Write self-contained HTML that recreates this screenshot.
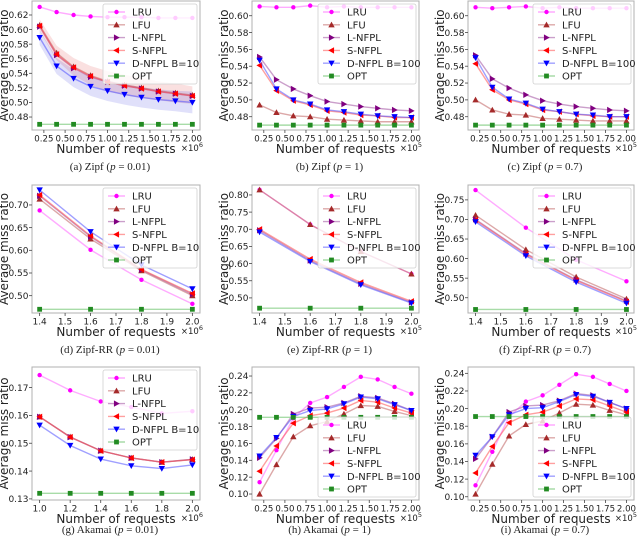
<!DOCTYPE html>
<html><head><meta charset="utf-8"><style>
body{margin:0;background:#fff;width:640px;height:541px;overflow:hidden}
svg{display:block}
text{font-family:"DejaVu Sans","Liberation Sans",sans-serif;fill:#222}
.cap{font-family:"Liberation Serif",serif;font-size:11px}
</style></head><body>
<svg id="fig" width="640" height="541"></svg>
<script>
// shared x categories
const xZipf=[0.2,0.4,0.6,0.8,1.0,1.2,1.4,1.6,1.8,2.0];
const xRR=[1.4,1.6,1.8,2.0];
const xAk=[1.0,1.2,1.4,1.6,1.8,2.0];
const xTicks025=[0.25,0.5,0.75,1.0,1.25,1.5,1.75,2.0];
const xTicksRR=[1.4,1.5,1.6,1.7,1.8,1.9,2.0];
const xTicksAk=[1.0,1.2,1.4,1.6,1.8,2.0];
// panel a
const aLRU=[0.631,0.624,0.620,0.618,0.617,0.617,0.617,0.616,0.616,0.616];
const aLFU=[0.606,0.568,0.549,0.537,0.529,0.524,0.520,0.516,0.513,0.510];
const aL=[0.604,0.565,0.547,0.535,0.528,0.523,0.519,0.515,0.512,0.509];
const aS=[0.605,0.566,0.548,0.536,0.528,0.523,0.519,0.515,0.512,0.509];
const aD=[0.589,0.550,0.533,0.522,0.516,0.511,0.507,0.504,0.502,0.500];
const aOPT=[0.47,0.47,0.47,0.47,0.47,0.47,0.47,0.47,0.47,0.47];
const aRedBand=[0.008,0.010,0.012,0.013,0.014,0.014,0.014,0.013,0.013,0.012];
const aBlueBand=[0.010,0.011,0.012,0.013,0.014,0.014,0.014,0.014,0.014,0.015];
// panel b
const bLRU=[0.611,0.610,0.610,0.612,0.610,0.611,0.610,0.610,0.610,0.610];
const bLFU=[0.494,0.485,0.481,0.480,0.477,0.476,0.475,0.474,0.474,0.474];
const bL=[0.551,0.524,0.513,0.505,0.498,0.495,0.492,0.490,0.488,0.487];
const bS=[0.541,0.511,0.499,0.494,0.487,0.485,0.482,0.481,0.479,0.479];
const bD=[0.547,0.513,0.500,0.495,0.488,0.486,0.483,0.481,0.480,0.479];
const bOPT=[0.47,0.47,0.47,0.47,0.47,0.47,0.47,0.47,0.47,0.47];
// panel c
const cLRU=[0.610,0.609,0.610,0.611,0.609,0.610,0.609,0.609,0.609,0.609];
const cLFU=[0.500,0.488,0.483,0.482,0.478,0.477,0.476,0.475,0.475,0.475];
const cL=[0.553,0.525,0.514,0.506,0.499,0.495,0.492,0.490,0.488,0.487];
const cS=[0.543,0.512,0.500,0.495,0.488,0.486,0.483,0.481,0.480,0.480];
const cD=[0.550,0.515,0.501,0.496,0.489,0.486,0.483,0.482,0.480,0.480];
const cOPT=[0.47,0.47,0.47,0.47,0.47,0.47,0.47,0.47,0.47,0.47];
// panel d
const dLRU=[0.688,0.601,0.535,0.482];
const dLFU=[0.713,0.625,0.555,0.500];
const dL=[0.720,0.630,0.557,0.503];
const dS=[0.722,0.632,0.558,0.505];
const dD=[0.733,0.641,0.568,0.515];
const dOPT=[0.47,0.47,0.47,0.47];
// panel e
const eLRU=[0.815,0.714,0.635,0.570];
const eLFU=[0.815,0.714,0.635,0.570];
const eL=[0.697,0.609,0.541,0.487];
const eS=[0.700,0.613,0.545,0.490];
const eD=[0.692,0.606,0.538,0.485];
const eOPT=[0.47,0.47,0.47,0.47];
// panel f
const fLRU=[0.775,0.679,0.597,0.542];
const fLFU=[0.711,0.623,0.553,0.497];
const fL=[0.700,0.613,0.546,0.492];
const fS=[0.698,0.611,0.544,0.490];
const fD=[0.694,0.607,0.540,0.486];
const fOPT=[0.47,0.47,0.47,0.47];
// panel g
const gLRU=[0.1745,0.169,0.165,0.163,0.1607,0.1615];
const gLFU=[0.1595,0.1523,0.1473,0.1447,0.1432,0.1442];
const gL=[0.1595,0.1522,0.1473,0.1447,0.1432,0.1442];
const gS=[0.1595,0.1522,0.1473,0.1447,0.1432,0.1441];
const gD=[0.1565,0.1492,0.1443,0.1419,0.1409,0.1422];
const gOPT=[0.132,0.132,0.132,0.132,0.132,0.132];
// panel h
const hLRU=[0.114,0.152,0.190,0.208,0.215,0.227,0.239,0.236,0.227,0.219];
const hLFU=[0.100,0.135,0.168,0.181,0.186,0.195,0.205,0.204,0.198,0.193];
const hL=[0.143,0.166,0.195,0.202,0.203,0.208,0.216,0.214,0.207,0.199];
const hS=[0.127,0.157,0.184,0.193,0.196,0.202,0.211,0.209,0.202,0.196];
const hD=[0.145,0.167,0.192,0.199,0.201,0.207,0.215,0.213,0.206,0.199];
const hOPT=[0.191,0.191,0.191,0.191,0.191,0.191,0.191,0.191,0.191,0.191];
// panel i
const iLRU=[0.113,0.151,0.191,0.208,0.215,0.227,0.239,0.236,0.228,0.220];
const iLFU=[0.103,0.137,0.169,0.182,0.186,0.195,0.205,0.204,0.198,0.193];
const iL=[0.143,0.168,0.196,0.203,0.204,0.209,0.217,0.215,0.207,0.200];
const iS=[0.127,0.157,0.184,0.193,0.196,0.203,0.211,0.210,0.203,0.196];
const iD=[0.147,0.168,0.193,0.200,0.201,0.208,0.216,0.214,0.207,0.200];
const iOPT=[0.191,0.191,0.191,0.191,0.191,0.191,0.191,0.191,0.191,0.191];

const NS='http://www.w3.org/2000/svg';
const fig=document.getElementById('fig');
function mk(tag,attrs,parent){const e=document.createElementNS(NS,tag);for(const k in attrs)e.setAttribute(k,attrs[k]);(parent||fig).appendChild(e);return e;}
const SER=[
 {name:'LRU',line:'#ff66ff',mk:'#ff00ff',shape:'circle'},
 {name:'LFU',line:'#c06060',mk:'#a52a2a',shape:'up'},
 {name:'L-NFPL',line:'#a050a0',mk:'#800080',shape:'right'},
 {name:'S-NFPL',line:'#ff5050',mk:'#ff0000',shape:'left'},
 {name:'D-NFPL',line:'#5050ff',mk:'#0000ff',shape:'down'},
 {name:'OPT',line:'#60c060',mk:'#228b22',shape:'square'}];
function marker(g,shape,x,y,c){
  const s=3.2;let e;
  if(shape==='circle')e=mk('circle',{cx:x,cy:y,r:2.2,fill:c},g);
  else if(shape==='square')e=mk('rect',{x:x-2.4,y:y-2.4,width:4.8,height:4.8,fill:c},g);
  else{let p;
    if(shape==='up')p=[[x,y-s],[x-s,y+s*0.8],[x+s,y+s*0.8]];
    if(shape==='down')p=[[x,y+s],[x-s,y-s*0.8],[x+s,y-s*0.8]];
    if(shape==='right')p=[[x+s,y],[x-s*0.8,y-s],[x-s*0.8,y+s]];
    if(shape==='left')p=[[x-s,y],[x+s*0.8,y-s],[x+s*0.8,y+s]];
    e=mk('polygon',{points:p.map(q=>q.join(',')).join(' '),fill:c},g);}
  return e;
}
function fmt(v,dec){return v.toFixed(dec);}
function panel(o){
  const g=mk('g',{});
  
  
  const L=o.box[0],R=o.box[1],T=o.box[2],B=o.box[3];
  const xmin=o.x[0],xmax=o.x[o.x.length-1],xr=xmax-xmin;
  const x0=xmin-0.05*xr,x1=xmax+0.05*xr;
  const sx=v=>L+(v-x0)/(x1-x0)*(R-L);
  const sy=v=>B-(v-o.ylim[0])/(o.ylim[1]-o.ylim[0])*(B-T);
  if(o.bands){o.bands.forEach(bd=>{
    const up=bd.c.map((v,i)=>[sx(o.x[i]),sy(v+bd.h[i])]);
    const dn=bd.c.map((v,i)=>[sx(o.x[i]),sy(v-bd.h[i])]).reverse();
    const p=mk('polygon',{points:up.concat(dn).map(q=>q.join(',')).join(' '),fill:bd.col,'fill-opacity':0.15},g);
    
    
  });}
  o.series.forEach((vals,si)=>{
    const s=SER[si];
    const sg=mk('g',{},g);
    
    
    mk('polyline',{points:vals.map((v,i)=>sx(o.x[i])+','+sy(v)).join(' '),fill:'none',stroke:s.line,'stroke-width':1.4,'stroke-opacity':0.55},sg);
    vals.forEach((v,i)=>{const m=marker(sg,s.shape,sx(o.x[i]),sy(v),s.mk);
      
      });
  });
  const fr=mk('rect',{x:L,y:T,width:R-L,height:B-T,fill:'none',stroke:'#b0b0b0','stroke-width':1},g);
  
  
  o.yt.forEach(v=>{const y=sy(v);
    mk('line',{x1:L-3,x2:L,y1:y,y2:y,stroke:'#444','stroke-width':0.8},g);
    const t=mk('text',{x:L-3.5,y:y+3.2,'text-anchor':'end','font-size':9},g);t.textContent=fmt(v,o.yd);
    
    });
  o.xt.forEach(v=>{const x=sx(v);
    mk('line',{x1:x,x2:x,y1:B,y2:B+3,stroke:'#444','stroke-width':0.8},g);
    const t=mk('text',{x:x,y:B+11.5,'text-anchor':'middle','font-size':o.xd===2?8.6:9},g);t.textContent=fmt(v,o.xd);
    
    });
  const xl=mk('text',{x:(L+R)/2,y:B+23,'text-anchor':'middle','font-size':12},g);xl.textContent='Number of requests';
  
  
  const ex=mk('text',{x:R+3,y:B+21,'text-anchor':'end','font-size':8.5},g);ex.innerHTML='×10<tspan dy="-4" font-size="6.5">'+o.exp+'</tspan>';
  
  
  const yl=mk('text',{x:0,y:0,'text-anchor':'middle','font-size':12,transform:'translate('+(L-24)+','+((T+B)/2)+') rotate(-90)'},g);yl.textContent='Average miss ratio';
  
  
  const lw=o.bval==='10'?94:98,lh=80;
  const lx=R-3-lw,ly=o.legBottom?B-3-lh:T+3;
  const lg=mk('g',{},g);
  
  
  mk('rect',{x:lx,y:ly,width:lw,height:lh,rx:2,fill:'#fff','fill-opacity':0.8,stroke:'#d0d0d0','stroke-width':0.8},lg);
  SER.forEach((s,i)=>{const y=ly+8+i*12.8;
    const eg=mk('g',{},lg);
    
    
    mk('line',{x1:lx+5,x2:lx+22,y1:y,y2:y,stroke:s.line,'stroke-width':1.4,'stroke-opacity':0.55},eg);
    marker(eg,s.shape,lx+13.5,y,s.mk);
    const t=mk('text',{x:lx+29,y:y+3.6,'font-size':10},eg);
    t.textContent=s.name==='D-NFPL'?'D-NFPL B='+o.bval:s.name;});
  const c=mk('text',{x:(L+R)/2-6,y:o.capY,'text-anchor':'middle',class:'cap'},g);
  c.innerHTML='('+o.id+') '+o.title+' (<tspan font-style="italic">p</tspan> = '+o.p+')';
  
  
}
const C1=[32,200],C2=[252,419],C3=[468,634];
const R1=[1,130],R2=[185,313],R3=[367,500];
const yt1=[0.48,0.50,0.52,0.54,0.56,0.58,0.60,0.62];
const yt2=[0.48,0.50,0.52,0.54,0.56,0.58,0.60];
const ytd=[0.50,0.55,0.60,0.65,0.70];
const yte=[0.50,0.55,0.60,0.65,0.70,0.75,0.80];
const ytf=[0.50,0.55,0.60,0.65,0.70,0.75];
const ytg=[0.13,0.14,0.15,0.16,0.17];
const yth=[0.10,0.12,0.14,0.16,0.18,0.20,0.22,0.24];
panel({id:'a',title:'Zipf',p:'0.01',box:[...C1,...R1],x:xZipf,ylim:[0.4622,0.6392],yt:yt1,yd:2,xt:xTicks025,xd:2,exp:6,bval:'10',capY:170,
  series:[aLRU,aLFU,aL,aS,aD,aOPT],bands:[{c:aLFU,h:aRedBand,col:'#e03030'},{c:aD,h:aBlueBand,col:'#3030e0'}]});
panel({id:'b',title:'Zipf',p:'1',box:[...C2,...R1],x:xZipf,ylim:[0.4642,0.6175],yt:yt2,yd:2,xt:xTicks025,xd:2,exp:5,bval:'100',capY:170,series:[bLRU,bLFU,bL,bS,bD,bOPT]});
panel({id:'c',title:'Zipf',p:'0.7',box:[...C3,...R1],x:xZipf,ylim:[0.4642,0.6175],yt:yt2,yd:2,xt:xTicks025,xd:2,exp:5,bval:'100',capY:170,series:[cLRU,cLFU,cL,cS,cD,cOPT]});
panel({id:'d',title:'Zipf-RR',p:'0.01',box:[...C1,...R2],x:xRR,ylim:[0.4618,0.744],yt:ytd,yd:2,xt:xTicksRR,xd:1,exp:6,bval:'10',capY:353,series:[dLRU,dLFU,dL,dS,dD,dOPT]});
panel({id:'e',title:'Zipf-RR',p:'1',box:[...C2,...R2],x:xRR,ylim:[0.456,0.829],yt:yte,yd:2,xt:xTicksRR,xd:1,exp:5,bval:'100',capY:353,series:[eLRU,eLFU,eL,eS,eD,eOPT]});
panel({id:'f',title:'Zipf-RR',p:'0.7',box:[...C3,...R2],x:xRR,ylim:[0.461,0.788],yt:ytf,yd:2,xt:xTicksRR,xd:1,exp:5,bval:'100',capY:353,series:[fLRU,fLFU,fL,fS,fD,fOPT]});
panel({id:'g',title:'Akamai',p:'0.01',box:[...C1,...R3],x:xAk,ylim:[0.1296,0.1774],yt:ytg,yd:2,xt:xTicksAk,xd:1,exp:6,bval:'10',capY:533,series:[gLRU,gLFU,gL,gS,gD,gOPT]});
panel({id:'h',title:'Akamai',p:'1',box:[...C2,...R3],x:xZipf,ylim:[0.0929,0.2507],yt:yth,yd:2,xt:xTicks025,xd:2,exp:5,bval:'100',capY:533,legBottom:true,series:[hLRU,hLFU,hL,hS,hD,hOPT]});
panel({id:'i',title:'Akamai',p:'0.7',box:[...C3,...R3],x:xZipf,ylim:[0.0963,0.2472],yt:yth,yd:2,xt:xTicks025,xd:2,exp:5,bval:'100',capY:533,legBottom:true,series:[iLRU,iLFU,iL,iS,iD,iOPT]});
</script>
</body></html>
